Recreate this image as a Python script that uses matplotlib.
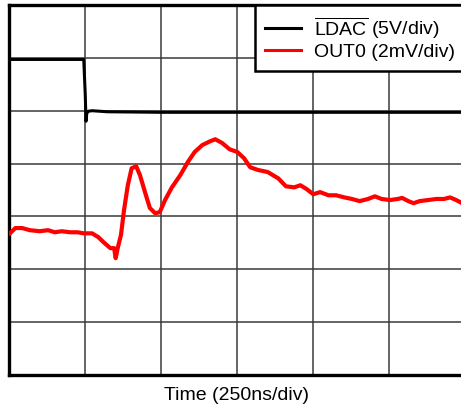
import matplotlib
matplotlib.use("Agg")
import matplotlib.pyplot as plt

plt.rcParams['font.family'] = ['Liberation Sans', 'DejaVu Sans']
plt.rcParams['mathtext.fontset'] = 'custom'
plt.rcParams['mathtext.rm'] = 'Liberation Sans'

# time and amplitude in scope divisions (250 ns/div, LDAC 5 V/div, OUT0 2 mV/div)
ldac_t = [0.0, 0.99, 1.01, 1.02, 1.03, 1.05, 1.10, 1.30, 2.0, 3.0, 4.0, 5.0, 6.1]
ldac_v = [5.97, 5.97, 5.3, 4.80, 4.95, 4.99, 5.0, 4.98, 4.97, 4.97, 4.97, 4.97, 4.97]

out0_t = [0.02, 0.09, 0.18, 0.28, 0.41, 0.52, 0.61, 0.70, 0.81, 0.91, 0.99,
          1.10, 1.18, 1.26, 1.34, 1.39, 1.41, 1.44, 1.48, 1.52, 1.57, 1.62,
          1.68, 1.73, 1.80, 1.86, 1.93, 1.99, 2.06, 2.15, 2.26, 2.36, 2.45,
          2.55, 2.65, 2.72, 2.81, 2.91, 3.01, 3.10, 3.18, 3.28, 3.41, 3.55,
          3.65, 3.76, 3.84, 3.92, 4.01, 4.10, 4.21, 4.31, 4.42, 4.52, 4.62,
          4.73, 4.82, 4.91, 5.02, 5.12, 5.18, 5.26, 5.33, 5.41, 5.52, 5.63,
          5.73, 5.81, 5.89, 5.97, 6.05]
out0_v = [2.68, 2.78, 2.78, 2.74, 2.72, 2.74, 2.70, 2.72, 2.70, 2.70, 2.68,
          2.68, 2.61, 2.50, 2.40, 2.40, 2.21, 2.42, 2.65, 3.12, 3.59, 3.91,
          3.95, 3.78, 3.44, 3.16, 3.06, 3.08, 3.31, 3.55, 3.78, 4.03, 4.22,
          4.35, 4.42, 4.46, 4.39, 4.27, 4.22, 4.10, 3.93, 3.88, 3.84, 3.72,
          3.57, 3.55, 3.59, 3.52, 3.42, 3.46, 3.40, 3.40, 3.36, 3.33, 3.29,
          3.33, 3.38, 3.33, 3.31, 3.33, 3.35, 3.29, 3.25, 3.29, 3.31, 3.33,
          3.33, 3.36, 3.31, 3.25, 3.26]

fig = plt.figure(figsize=(4.61, 4.13), dpi=100)
ax = fig.add_axes([8.5 / 461, 38 / 413, 456 / 461, 370 / 413])

ax.set_xlim(0, 6)
ax.set_ylim(0, 7)
for gx in range(1, 6):
    ax.axvline(gx, color='#3a3a3a', lw=1.1, zorder=1)
for gy in range(1, 7):
    ax.axhline(gy, color='#3a3a3a', lw=1.1, zorder=1)

ax.plot(ldac_t, ldac_v, color='black', lw=2.2, zorder=3,
        label=r'$\overline{\mathrm{LDAC}}$ (5V/div)')
ax.plot(out0_t, out0_v, color='#ff0000', lw=3.0, zorder=3,
        label='OUT0 (2mV/div)')

ax.set_xticks([])
ax.set_yticks([])
for side in ['left', 'top', 'bottom']:
    ax.spines[side].set_linewidth(2.4)
ax.spines['right'].set_visible(False)

ax.set_xlabel('Time (250ns/div)', fontsize=14, labelpad=9)

leg = ax.legend(loc='upper right', bbox_to_anchor=(1.0, 1.0), borderaxespad=0,
                fancybox=False, framealpha=1, edgecolor='black', fontsize=14,
                handlelength=1.85, handletextpad=0.65, labelspacing=0.15,
                borderpad=0.5)
leg.get_frame().set_linewidth(1.8)
for h in leg.get_lines():
    h.set_linewidth(2.2)

fig.savefig('out.png', dpi=100)
